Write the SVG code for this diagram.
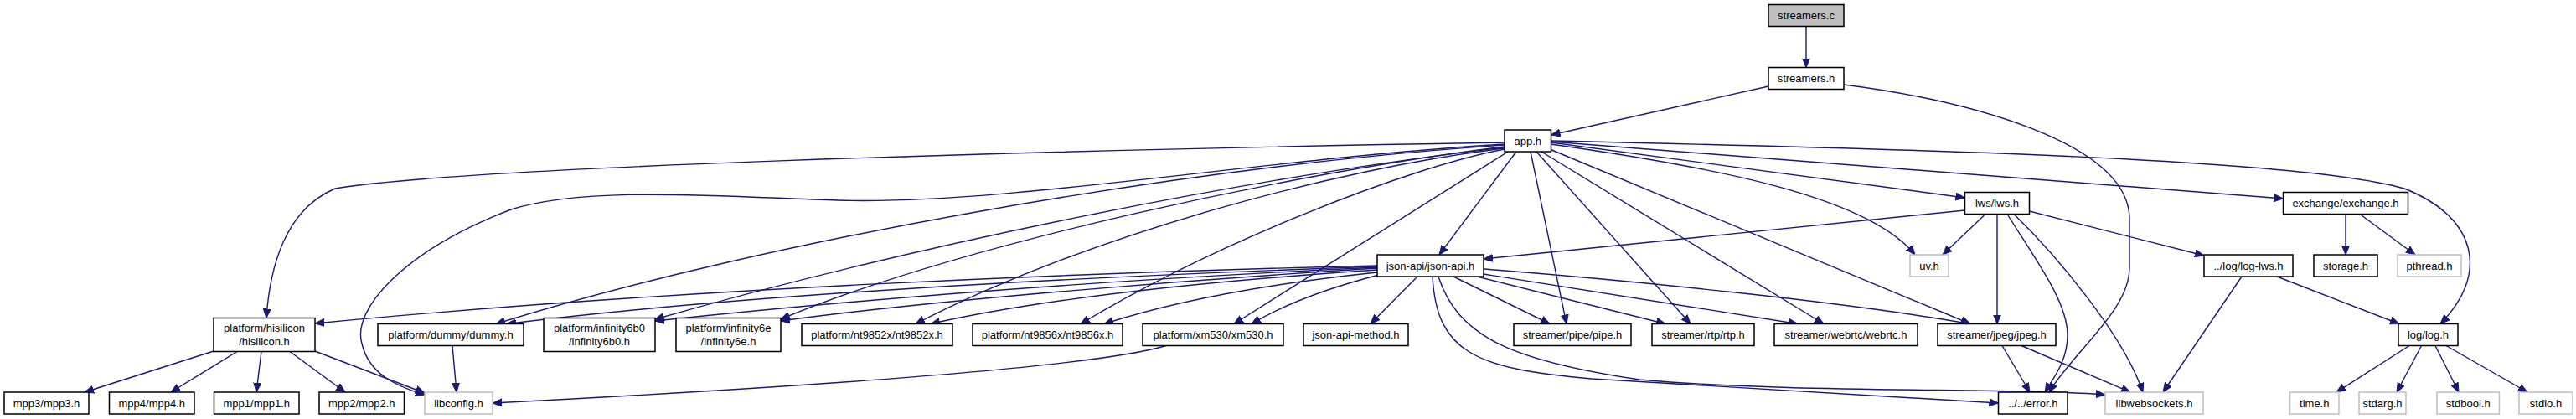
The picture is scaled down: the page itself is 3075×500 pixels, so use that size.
<svg xmlns="http://www.w3.org/2000/svg" width="3075" height="500" viewBox="0 0 3075 500">
<style>
  rect.b { fill: #ffffff; stroke: #000000; stroke-width: 1.5; }
  rect.g { fill: #ffffff; stroke: #bfbfbf; stroke-width: 1.5; }
  rect.r { fill: #bfbfbf; stroke: #000000; stroke-width: 1.5; }
  text { font-family: "Liberation Sans", Arial, Helvetica, sans-serif; font-size: 13px; text-anchor: middle; fill: #000000; }
  .e path { fill: none; stroke: #191970; stroke-width: 1.4; marker-end: url(#arr); }
</style>
<defs>
  <marker id="arr" markerUnits="userSpaceOnUse" markerWidth="12" markerHeight="10" viewBox="0 -5 12 10" refX="11" refY="0" orient="auto">
    <path d="M0,-4.5 L11,0 L0,4.5 z" fill="#191970" stroke="#191970" stroke-width="1"/>
  </marker>
</defs>
<rect width="3075" height="500" fill="#ffffff"/>
<g class="e" id="edges">
  <path d="M2156,31.5 L2156,80.5"/>
  <path d="M2111,103 L1851.5,161"/>
  <path d="M2201,101 C2350,120 2540,170 2542,260 L2542,320 C2542,370 2475,420 2446,468"/>
  <path d="M1796,170 C1200,180 550,200 400,225 C340,250 322,320 318,379.5"/>
  <path d="M1796,172 C1500,190 1200,245 1000,239 C850,234 700,222 610,250 C480,300 420,370 432,410 C440,445 470,460 507,471"/>
  <path d="M1796,173 C1400,200 900,290 592,386.5"/>
  <path d="M1796,176 C1500,210 1100,290 782,381"/>
  <path d="M1796,175 C1550,205 1150,290 932,381"/>
  <path d="M1796,177 C1600,200 1300,280 1093,386.5"/>
  <path d="M1796,178 C1680,200 1450,290 1290,386.5"/>
  <path d="M1800,181 L1473,386.5"/>
  <path d="M1810,181 L1718,304"/>
  <path d="M1827,181 L1870,386.5"/>
  <path d="M1834,181 L2018,386.5"/>
  <path d="M1840,181 L2177,386.5"/>
  <path d="M1850,178 L2352,386.5"/>
  <path d="M1851,172 C2050,200 2230,235 2286,304"/>
  <path d="M1851.5,170 L2345.5,236"/>
  <path d="M1851.5,169 L2725.5,237"/>
  <path d="M1851.5,168 C2300,178 2750,190 2870,225 C2960,260 2970,330 2913,386.5"/>
  <path d="M2345.5,251 L1771,309"/>
  <path d="M2370,255.5 L2319,304"/>
  <path d="M2384,255.5 L2384,386.5"/>
  <path d="M2396,255.5 C2430,310 2468,360 2468,400 C2468,430 2452,450 2441,468"/>
  <path d="M2404,255.5 C2455,305 2535,400 2558,468"/>
  <path d="M2422.5,252 L2631,305"/>
  <path d="M2800,255.5 L2800,304"/>
  <path d="M2817,255.5 L2883,304"/>
  <path d="M2676,330 L2582,468"/>
  <path d="M2718,330 L2864,386.5"/>
  <path d="M1644,317 C1300,325 800,345 376,386"/>
  <path d="M1644,318 C1300,330 900,350 605,386.5"/>
  <path d="M1644,319 C1300,335 1000,360 782,383"/>
  <path d="M1644,320 C1400,335 1100,360 932,383"/>
  <path d="M1644,322 C1450,335 1250,355 1111,386.5"/>
  <path d="M1644,325 C1500,340 1400,360 1318,386.5"/>
  <path d="M1646,328 C1580,345 1530,365 1494,386.5"/>
  <path d="M1692,330 L1636,386.5"/>
  <path d="M1735,330 L1850,386.5"/>
  <path d="M1763,330 L1988,386.5"/>
  <path d="M1771,327 L2146,386.5"/>
  <path d="M1771,321 C1950,335 2200,360 2352,386.5"/>
  <path d="M1710,330 C1715,420 1760,440 1900,452 C2100,465 2300,475 2385.5,481"/>
  <path d="M1717,330 C1740,400 1800,430 1957,453 C2150,470 2400,462 2513,471"/>
  <path d="M2390,412.5 L2423,468"/>
  <path d="M2413,412.5 L2543,468"/>
  <path d="M255,419 L101,468"/>
  <path d="M283,419.5 L204,468"/>
  <path d="M312,419.5 L306,468"/>
  <path d="M346,419.5 L412,468"/>
  <path d="M376,419 L507,469"/>
  <path d="M540,412.5 L545,468"/>
  <path d="M1392,412.5 C1300,440 900,465 588,481"/>
  <path d="M2876,412.5 L2789,468"/>
  <path d="M2890.5,412.5 L2861,468"/>
  <path d="M2907,412.5 L2935,468"/>
  <path d="M2920,412.5 L3017,468"/>
</g>
<g id="n_streamers_c"><rect class="r" x="2111" y="5.5" width="90" height="26"/><text x="2156" y="23">streamers.c</text></g>
<g id="n_streamers_h"><rect class="b" x="2111" y="80.5" width="90" height="26"/><text x="2156" y="98">streamers.h</text></g>
<g id="n_app_h"><rect class="b" x="1796" y="155" width="55.5" height="26"/><text x="1823.75" y="172.5">app.h</text></g>
<g id="n_lws_h"><rect class="b" x="2345.5" y="229.5" width="77" height="26"/><text x="2384" y="247">lws/lws.h</text></g>
<g id="n_exchange_h"><rect class="b" x="2725.5" y="229.5" width="149" height="26"/><text x="2800" y="247">exchange/exchange.h</text></g>
<g id="n_json_api_h"><rect class="b" x="1644" y="304" width="127" height="26"/><text x="1707.5" y="321.5">json-api/json-api.h</text></g>
<g id="n_uv_h"><rect class="g" x="2280" y="304" width="46" height="26"/><text x="2303" y="321.5">uv.h</text></g>
<g id="n_log_lws_h"><rect class="b" x="2631" y="304" width="106" height="26"/><text x="2684" y="321.5">../log/log-lws.h</text></g>
<g id="n_storage_h"><rect class="b" x="2762" y="304" width="76" height="26"/><text x="2800" y="321.5">storage.h</text></g>
<g id="n_pthread_h"><rect class="g" x="2862" y="304" width="76" height="26"/><text x="2900" y="321.5">pthread.h</text></g>
<g id="n_hisilicon_h"><rect class="b" x="255" y="379.5" width="121" height="40"/><text x="315.5" y="395.5">platform/hisilicon</text><text x="315.5" y="411.5">/hisilicon.h</text></g>
<g id="n_dummy_h"><rect class="b" x="451" y="386.5" width="174" height="26"/><text x="538" y="404">platform/dummy/dummy.h</text></g>
<g id="n_infinity6b0_h"><rect class="b" x="649" y="379.5" width="133" height="40"/><text x="715.5" y="395.5">platform/infinity6b0</text><text x="715.5" y="411.5">/infinity6b0.h</text></g>
<g id="n_infinity6e_h"><rect class="b" x="807" y="379.5" width="125" height="40"/><text x="869.5" y="395.5">platform/infinity6e</text><text x="869.5" y="411.5">/infinity6e.h</text></g>
<g id="n_nt9852x_h"><rect class="b" x="957" y="386.5" width="180" height="26"/><text x="1047" y="404">platform/nt9852x/nt9852x.h</text></g>
<g id="n_nt9856x_h"><rect class="b" x="1161" y="386.5" width="179" height="26"/><text x="1250.5" y="404">platform/nt9856x/nt9856x.h</text></g>
<g id="n_xm530_h"><rect class="b" x="1364" y="386.5" width="168" height="26"/><text x="1448" y="404">platform/xm530/xm530.h</text></g>
<g id="n_json_api_method_h"><rect class="b" x="1556" y="386.5" width="125" height="26"/><text x="1618.5" y="404">json-api-method.h</text></g>
<g id="n_pipe_h"><rect class="b" x="1807" y="386.5" width="140" height="26"/><text x="1877" y="404">streamer/pipe/pipe.h</text></g>
<g id="n_rtp_h"><rect class="b" x="1972" y="386.5" width="122" height="26"/><text x="2033" y="404">streamer/rtp/rtp.h</text></g>
<g id="n_webrtc_h"><rect class="b" x="2118" y="386.5" width="171" height="26"/><text x="2203.5" y="404">streamer/webrtc/webrtc.h</text></g>
<g id="n_jpeg_h"><rect class="b" x="2313" y="386.5" width="141" height="26"/><text x="2383.5" y="404">streamer/jpeg/jpeg.h</text></g>
<g id="n_log_h"><rect class="b" x="2863" y="386.5" width="71" height="26"/><text x="2898.5" y="404">log/log.h</text></g>
<g id="n_mpp3_h"><rect class="b" x="5" y="468" width="101" height="26"/><text x="55.5" y="485.5">mpp3/mpp3.h</text></g>
<g id="n_mpp4_h"><rect class="b" x="130.5" y="468" width="101.5" height="26"/><text x="181.25" y="485.5">mpp4/mpp4.h</text></g>
<g id="n_mpp1_h"><rect class="b" x="255.5" y="468" width="101.5" height="26"/><text x="306.25" y="485.5">mpp1/mpp1.h</text></g>
<g id="n_mpp2_h"><rect class="b" x="381" y="468" width="101.5" height="26"/><text x="431.75" y="485.5">mpp2/mpp2.h</text></g>
<g id="n_libconfig_h"><rect class="g" x="507" y="468" width="81" height="26"/><text x="547.5" y="485.5">libconfig.h</text></g>
<g id="n_error_h"><rect class="b" x="2385.5" y="468" width="82.5" height="26"/><text x="2426.75" y="485.5">../../error.h</text></g>
<g id="n_libwebsockets_h"><rect class="g" x="2513" y="468" width="117" height="26"/><text x="2571.5" y="485.5">libwebsockets.h</text></g>
<g id="n_time_h"><rect class="g" x="2733.5" y="468" width="58.5" height="26"/><text x="2762.75" y="485.5">time.h</text></g>
<g id="n_stdarg_h"><rect class="g" x="2816" y="468" width="56" height="26"/><text x="2844" y="485.5">stdarg.h</text></g>
<g id="n_stdbool_h"><rect class="g" x="2909" y="468" width="74.5" height="26"/><text x="2946.25" y="485.5">stdbool.h</text></g>
<g id="n_stdio_h"><rect class="g" x="3007" y="468" width="64" height="26"/><text x="3039" y="485.5">stdio.h</text></g>
</svg>
